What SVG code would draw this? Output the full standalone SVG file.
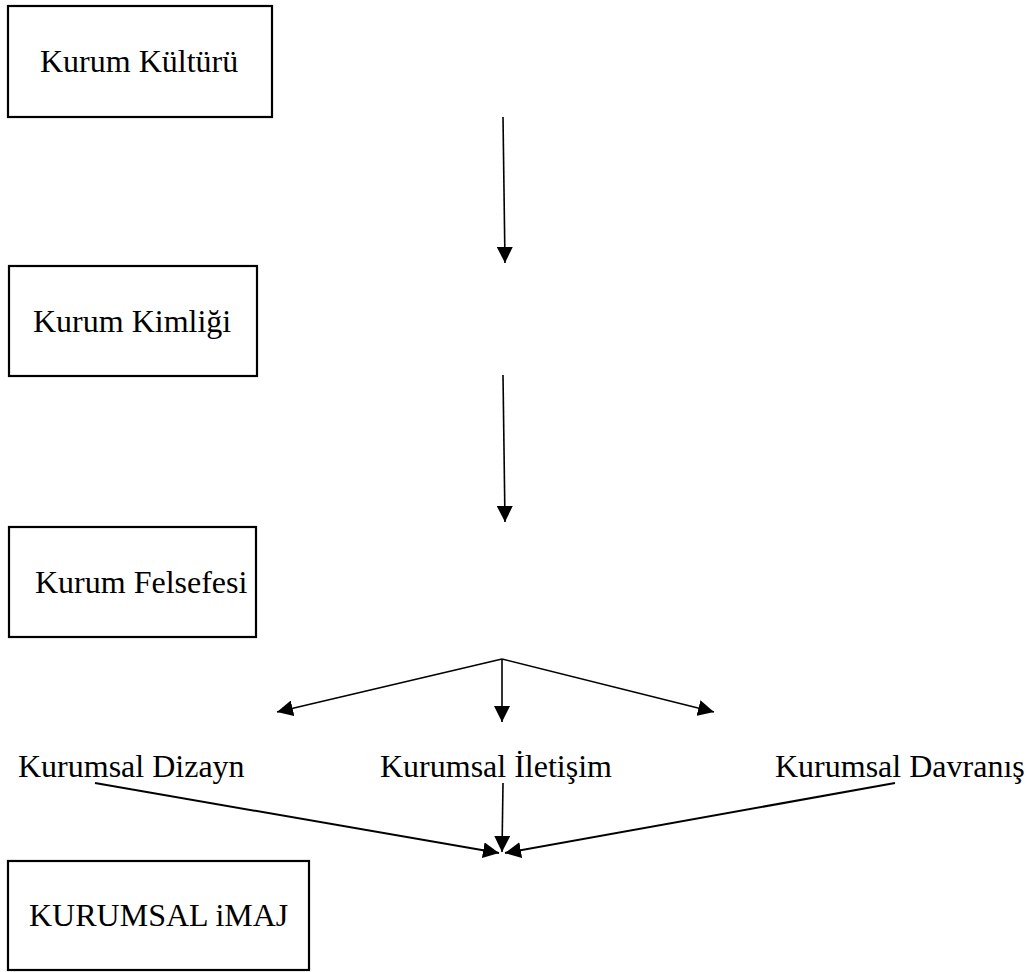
<svg xmlns="http://www.w3.org/2000/svg" width="1027" height="972" viewBox="0 0 1027 972">
<style>
.box{fill:#fff;stroke:#000;stroke-width:2.2}
.t{font-family:"Liberation Serif","Times New Roman",serif;font-size:32px;fill:#000}
.c{stroke:#000;stroke-width:1.6;fill:none}
.c2{stroke:#000;stroke-width:2;fill:none}
</style>
<defs>
<marker id="ah" markerUnits="userSpaceOnUse" viewBox="0 0 16 16" markerWidth="16" markerHeight="16" refX="16" refY="8" orient="auto">
<path d="M0,0 L16,8 L0,16 z" fill="#000"/>
</marker>
</defs>
<rect width="1027" height="972" fill="#fff"/>
<g id="kultur"><rect class="box" x="8" y="6" width="264" height="111"/><text class="t" x="40" y="72">Kurum Kültürü</text></g>
<g id="kimlik"><rect class="box" x="9" y="266" width="248" height="110"/><text class="t" x="33" y="332">Kurum Kimliği</text></g>
<g id="felsefe"><rect class="box" x="9" y="527" width="247" height="110"/><text class="t" x="35" y="593">Kurum Felsefesi</text></g>
<g id="dizayn"><text class="t" x="18" y="777">Kurumsal Dizayn</text></g>
<g id="iletisim"><text class="t" x="380" y="777">Kurumsal İletişim</text></g>
<g id="davranis"><text class="t" x="775" y="777">Kurumsal Davranış</text></g>
<g id="imaj"><rect class="box" x="8" y="861" width="301" height="109"/><text class="t" x="29" y="926">KURUMSAL iMAJ</text></g>
<g id="connectors">
<line class="c" x1="503" y1="117" x2="505" y2="263" marker-end="url(#ah)"/>
<line class="c" x1="503" y1="375" x2="505" y2="522" marker-end="url(#ah)"/>
<line class="c" x1="502" y1="659" x2="277" y2="712" marker-end="url(#ah)"/>
<line class="c" x1="502" y1="659" x2="502" y2="722" marker-end="url(#ah)"/>
<line class="c" x1="502" y1="659" x2="714" y2="712" marker-end="url(#ah)"/>
<line class="c2" x1="95" y1="783" x2="499" y2="853" marker-end="url(#ah)"/>
<line class="c" x1="503" y1="783" x2="502" y2="852" marker-end="url(#ah)"/>
<line class="c2" x1="895" y1="783" x2="505" y2="853" marker-end="url(#ah)"/>
</g>
</svg>
